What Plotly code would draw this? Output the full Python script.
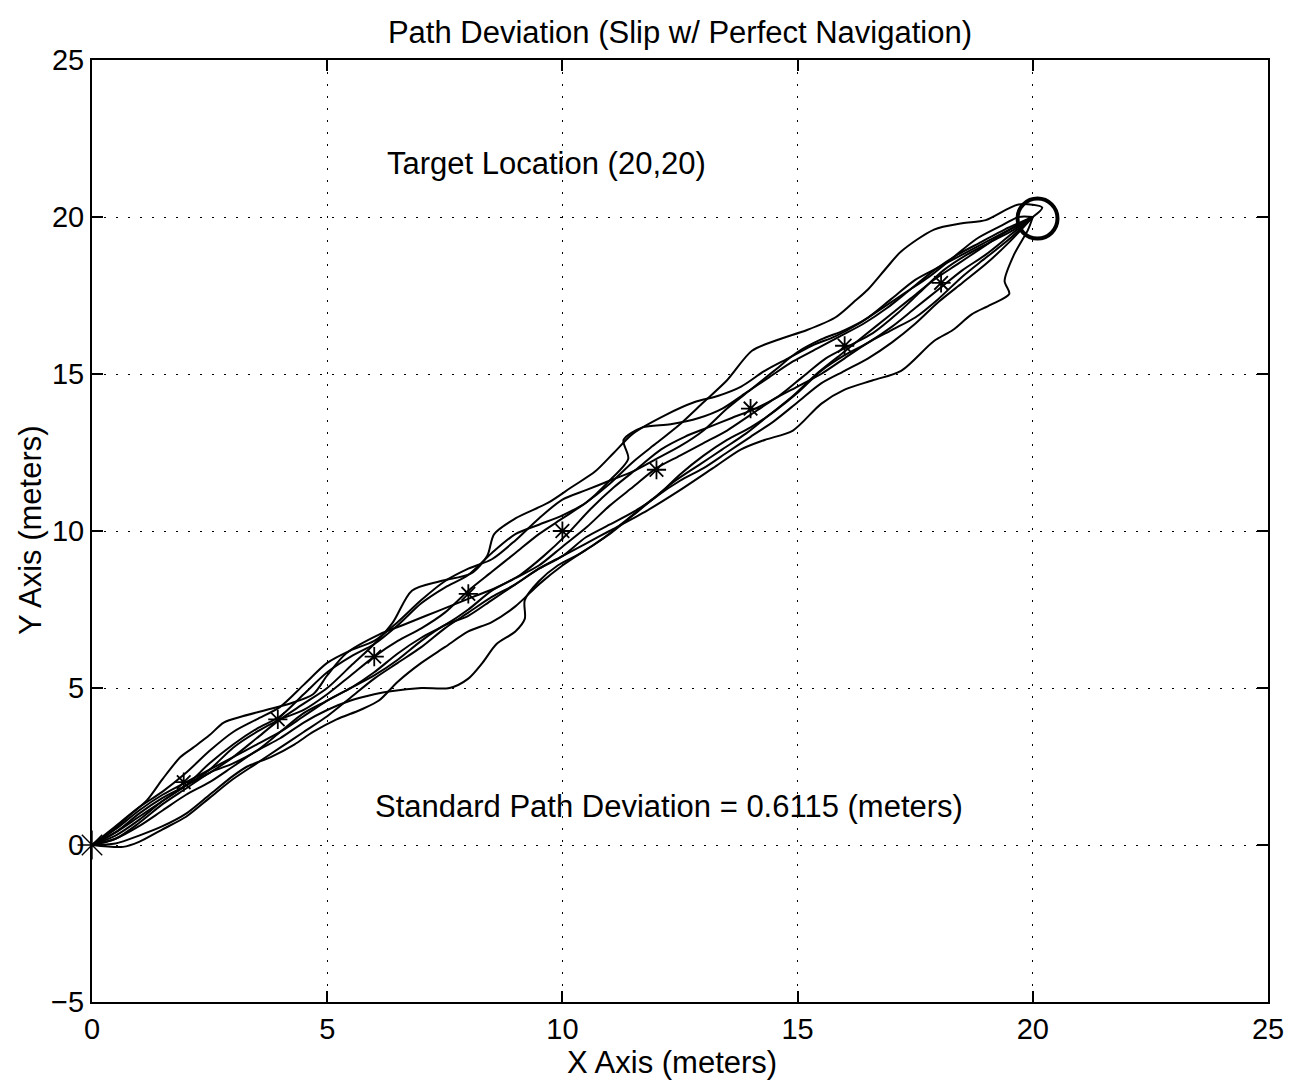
import plotly.graph_objects as go

# --- data: ten simulated paths (meters) ---
p1_x = [0,0.45,0.8,1.17,1.5,1.88,2.15,2.5,2.8,3.2,3.7,4.2,4.7,5.0,5.4,6.1,6.6,7.1,7.6,8.1,8.6,9.1,9.6,10.1,10.6,11.1,11.6,12.1,12.6,13.1,13.6,14.1,14.6,15.1,15.6,16.1,16.6,17.1,17.6,18.1,18.6,19.1,19.6,20.0]
p1_y = [0,0.48,0.95,1.43,2.1,2.8,3.1,3.5,3.9,4.1,4.3,4.5,4.8,5.4,6.1,6.7,7.0,7.3,7.6,7.9,8.2,8.6,9.2,9.9,10.7,11.4,12.0,12.6,13.0,13.3,13.6,13.9,14.3,14.9,15.5,15.9,16.3,16.9,17.6,18.3,18.8,19.2,19.6,20.0]

p2_x = [0,0.5,1.0,1.5,2.0,2.5,3.0,3.5,4.0,4.5,5.0,5.5,6.0,6.4,6.8,7.4,8.06,8.4,8.55,9.0,9.7,10.2,10.7,11.1,11.5,12.2,12.8,13.3,13.8,14.3,14.8,15.3,15.8,16.3,16.8,17.3,17.8,18.3,18.8,19.3,19.7,20.0]
p2_y = [0,0.3,0.8,1.4,1.9,2.3,2.8,3.4,4.0,4.5,5.0,5.7,6.4,7.1,8.1,8.4,8.65,9.2,9.9,10.4,10.9,11.4,11.9,12.5,13.1,13.7,14.1,14.3,14.6,15.1,15.5,15.9,16.2,16.6,17.1,17.6,18.1,18.7,19.3,19.7,20.0,20.0]

p3_x = [0,0.5,1.0,1.5,2.0,2.5,3.0,3.5,4.0,4.5,5.0,5.5,6.0,6.5,7.0,7.5,8.0,8.5,9.0,9.5,10.0,10.5,11.0,11.5,12.0,12.5,13.0,13.5,14.03,14.6,15.2,15.8,16.2,16.5,16.9,17.2,17.9,18.5,19.0,19.7,20.2,20.0]
p3_y = [0,0.4,1.0,1.5,1.9,2.4,3.1,3.6,4.0,4.3,4.8,5.4,6.0,6.5,6.9,7.4,8.1,8.7,9.3,9.9,10.4,10.9,11.5,12.2,12.8,13.4,14.1,14.8,15.74,16.1,16.4,16.8,17.3,17.7,18.4,18.9,19.6,19.8,19.9,20.4,20.3,20.0]

p4_x = [0,0.5,1.0,1.5,2.0,2.5,3.0,3.5,4.0,4.5,5.0,5.5,6.0,6.35,7.0,7.6,8.0,8.3,8.6,9.0,9.2,9.2,9.5,9.9,10.4,10.9,11.4,11.9,12.4,12.9,13.4,13.9,14.4,14.9,15.4,15.9,16.4,16.9,17.4,17.9,18.4,18.9,19.4,20.0]
p4_y = [0,0.2,0.6,1.1,1.6,2.0,2.5,3.0,3.4,3.9,4.3,4.6,4.8,4.9,5.0,5.0,5.3,5.8,6.4,6.8,7.2,7.8,8.4,8.9,9.3,9.8,10.4,11.0,11.6,12.1,12.6,13.1,13.7,14.3,15.0,15.6,16.2,16.8,17.4,18.0,18.5,19.0,19.5,20.0]

p5_x = [0,0.66,1.0,1.5,2.0,2.5,3.0,3.5,4.0,4.5,5.0,5.5,6.0,6.5,7.0,7.5,8.0,8.5,9.0,9.5,10.0,10.5,11.0,11.8,12.5,13.2,13.8,14.3,14.9,15.5,16.0,16.6,17.2,17.9,18.3,18.7,19.1,19.5,19.4,19.6,19.9,20.0]
p5_y = [0,-0.06,0.1,0.5,0.9,1.5,2.1,2.6,3.1,3.6,4.1,4.7,5.3,5.8,6.3,6.9,7.4,7.9,8.3,8.8,9.2,9.6,10.0,10.65,11.3,12.0,12.6,12.9,13.2,14.05,14.5,14.8,15.1,16.05,16.4,16.9,17.2,17.55,17.96,18.8,19.6,20.0]

p6_x = [0,0.5,1.0,1.5,2.0,2.5,3.0,3.3,3.8,4.3,4.7,5.2,5.7,6.1,6.5,7.0,7.5,8.0,8.5,9.0,9.5,10.0,10.5,11.0,11.5,12.0,12.5,13.0,13.5,14.0,14.5,15.0,15.5,16.0,16.5,17.0,17.5,18.0,18.5,19.0,19.5,20.0]
p6_y = [0,0.05,0.3,0.6,1.0,1.6,2.2,2.5,2.8,3.2,3.6,4.0,4.3,4.6,5.2,5.8,6.3,6.8,7.1,7.6,8.3,8.9,9.4,9.9,10.5,11.1,11.6,12.0,12.5,13.0,13.5,14.1,14.7,15.1,15.5,16.0,16.6,17.3,17.9,18.5,19.2,20.0]

p7_x = [0,0.5,1.0,1.5,2.0,2.5,3.0,3.5,4.0,4.5,5.0,5.5,6.0,6.5,7.0,7.5,8.0,8.5,9.0,9.5,10.0,10.5,11.0,11.4,11.3,11.7,12.3,12.9,13.4,13.9,14.4,14.9,15.4,15.9,16.4,16.9,17.4,17.9,18.4,18.9,19.4,20.0]
p7_y = [0,0.4,0.9,1.4,1.9,2.6,3.2,3.7,4.1,4.8,5.5,6.0,6.4,7.0,7.7,8.2,8.6,9.3,9.9,10.2,10.5,10.9,11.6,12.3,12.9,13.3,13.4,13.6,13.9,14.4,14.9,15.4,15.8,16.2,16.6,17.1,17.7,18.3,18.8,19.2,19.6,20.0]

p8_x = [0,0.5,1.0,1.5,2.0,2.5,3.0,3.5,4.0,4.5,5.0,5.5,6.0,6.5,7.0,7.5,8.0,8.5,9.0,9.5,10.0,10.5,11.0,11.5,12.0,12.5,13.0,13.5,14.0,14.5,15.0,15.5,16.0,16.5,17.0,17.5,18.0,18.5,19.0,19.5,20.0]
p8_y = [0,0.2,0.7,1.3,1.8,2.3,2.6,3.0,3.6,4.2,4.6,5.0,5.5,6.1,6.6,7.0,7.5,8.1,8.5,8.9,9.5,10.1,10.8,11.4,12.0,12.4,12.8,13.2,13.7,14.2,14.6,15.0,15.5,16.0,16.4,16.8,17.4,18.1,18.7,19.3,20.0]

p9_x = [0,0.5,1.0,1.5,2.0,2.5,3.0,3.5,4.0,4.5,5.0,5.5,6.0,6.5,7.0,7.5,8.0,8.5,9.0,9.5,10.0,10.5,11.0,11.5,12.0,12.5,13.0,13.5,14.0,14.5,15.0,15.5,16.0,16.5,17.0,17.5,18.0,18.5,19.0,19.5,20.0]
p9_y = [0,0.5,1.1,1.6,2.0,2.4,2.8,3.2,3.6,4.1,4.6,5.0,5.4,5.9,6.5,7.0,7.3,7.8,8.3,8.8,9.2,9.8,10.2,10.6,11.1,11.8,12.4,12.9,13.3,13.8,14.4,15.1,15.6,16.0,16.5,17.1,17.7,18.3,18.8,19.4,20.0]

p10_x = [0,0.5,1.0,1.5,2.0,2.5,3.0,3.5,4.0,4.5,5.0,5.5,6.0,6.5,7.0,7.5,8.0,8.5,9.0,9.5,10.0,10.5,11.0,11.5,12.0,12.5,13.0,13.5,14.0,14.5,15.0,15.5,16.0,16.5,17.0,17.5,18.0,18.5,19.0,19.5,20.0]
p10_y = [0,0.6,1.2,1.7,2.3,3.0,3.6,4.0,4.4,5.1,5.8,6.2,6.5,7.1,7.8,8.4,8.8,9.1,9.7,10.4,11.0,11.3,11.6,11.9,12.3,12.7,13.2,13.9,14.5,15.1,15.7,16.1,16.4,16.8,17.4,18.0,18.4,18.8,19.2,19.6,20.0]

waypoint_x = [1.95, 3.95, 6.0, 8.0, 10.0, 12.0, 14.0, 16.0, 18.05]
waypoint_y = [2.0, 4.0, 6.0, 8.0, 10.0, 11.95, 13.9, 15.9, 17.9]
start_x, start_y = [0], [0]
target_x, target_y = [20.1], [19.95]

x_ticks = [0, 5, 10, 15, 20, 25]
y_ticks = [-5, 0, 5, 10, 15, 20, 25]

title_text = "Path Deviation (Slip w/ Perfect Navigation)"
x_title = "X Axis (meters)"
y_title = "Y Axis (meters)"
note_target = "Target Location (20,20)"
note_dev = "Standard Path Deviation = 0.6115 (meters)"

paths = [(p1_x, p1_y), (p2_x, p2_y), (p3_x, p3_y), (p4_x, p4_y), (p5_x, p5_y),
         (p6_x, p6_y), (p7_x, p7_y), (p8_x, p8_y), (p9_x, p9_y), (p10_x, p10_y)]

FONT = "Liberation Sans, Arial, Helvetica, sans-serif"
W, H = 1277, 1076
ML, MR, MT, MB = 84, 17, 52, 82

fig = go.Figure()
for px, py in paths:
    fig.add_trace(go.Scatter(
        x=px, y=py, mode="lines",
        line=dict(color="black", width=2.0, shape="spline", smoothing=0.8),
        hoverinfo="skip", showlegend=False,
    ))

fig.add_trace(go.Scatter(
    x=waypoint_x, y=waypoint_y, mode="markers",
    marker=dict(symbol="asterisk", size=16, color="black", line=dict(color="black", width=1.8)),
    showlegend=False,
))
fig.add_trace(go.Scatter(
    x=start_x, y=start_y, mode="markers",
    marker=dict(symbol="asterisk", size=24, color="black", line=dict(color="black", width=1.4)),
    showlegend=False, cliponaxis=False,
))
fig.add_trace(go.Scatter(
    x=target_x, y=target_y, mode="markers",
    marker=dict(symbol="circle-open", size=40, color="black", line=dict(color="black", width=4)),
    showlegend=False,
))

fig.add_annotation(x=6.23, y=21.7, text=note_target, showarrow=False, xanchor="left",
                   yanchor="middle", font=dict(family=FONT, size=31, color="black"))
fig.add_annotation(x=5.97, y=1.24, text=note_dev, showarrow=False, xanchor="left",
                   yanchor="middle", font=dict(family=FONT, size=31, color="black"))

# axis titles placed as annotations for exact positions
fig.add_annotation(xref="paper", yref="paper", x=(672 - 8 - ML) / (W - ML - MR), y=0,
                   yshift=-(1054 - (H - MB)), text=x_title, showarrow=False,
                   xanchor="center", yanchor="middle", font=dict(family=FONT, size=31, color="black"))
fig.add_annotation(xref="paper", yref="paper", x=0, y=(H - MB - (530 - 8)) / (H - MT - MB),
                   xshift=-(ML - 22), text=y_title, showarrow=False, textangle=-90,
                   xanchor="center", yanchor="middle", font=dict(family=FONT, size=31, color="black"))

axis_common = dict(
    showline=True, linecolor="black", linewidth=2, mirror="ticks",
    ticks="inside", ticklen=11, tickwidth=1.5, tickcolor="black",
    showgrid=True, gridcolor="black", gridwidth=1.3, griddash="2px,10px",
    zeroline=False, automargin=False,
    tickfont=dict(family=FONT, size=29, color="black"),
)

fig.update_layout(
    width=W, height=H,
    margin=dict(l=ML, r=MR, t=MT, b=MB),
    paper_bgcolor="white", plot_bgcolor="white",
    title=dict(text=title_text, x=(680 - 8) / W, xanchor="center", y=1 - 24 / H, yanchor="middle",
               font=dict(family=FONT, size=31, color="black")),
    xaxis=dict(range=[0, 25], tickvals=x_ticks, ticktext=[str(v) for v in x_ticks], **axis_common),
    yaxis=dict(range=[-5, 25], tickvals=y_ticks,
               ticktext=["\u22125" if v < 0 else str(v) for v in y_ticks], **axis_common),
)

fig.write_html("out.html")
